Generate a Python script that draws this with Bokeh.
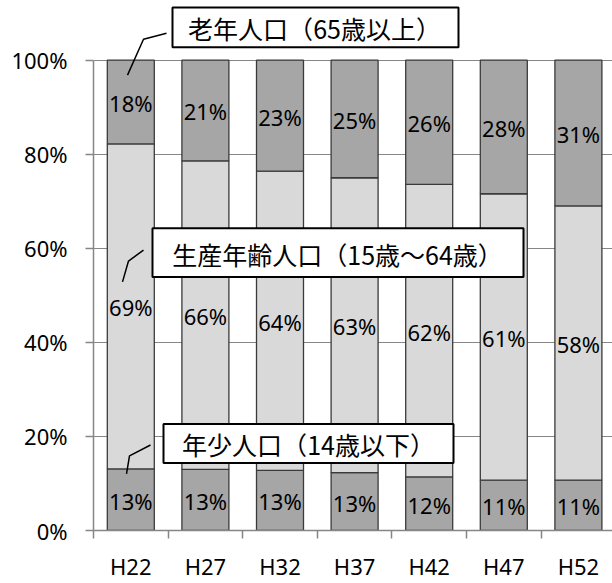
from bokeh.plotting import figure
from bokeh.models import ColumnDataSource, FixedTicker, Range1d, BoxAnnotation, Label, NumeralTickFormatter
from bokeh.core.properties import value
from bokeh.embed import file_html
from bokeh.resources import INLINE

# ---- data ----
categories = ["H22", "H27", "H32", "H37", "H42", "H47", "H52"]
young = [0.131, 0.130, 0.128, 0.123, 0.114, 0.107, 0.107]      # 年少人口
working = [0.691, 0.656, 0.636, 0.627, 0.622, 0.609, 0.583]    # 生産年齢人口
elderly = [0.178, 0.214, 0.236, 0.250, 0.264, 0.284, 0.310]    # 老年人口
young_labels = ["13%", "13%", "13%", "13%", "12%", "11%", "11%"]
working_labels = ["69%", "66%", "64%", "63%", "62%", "61%", "58%"]
elderly_labels = ["18%", "21%", "23%", "25%", "26%", "28%", "31%"]
y_ticks = [0.0, 0.2, 0.4, 0.6, 0.8, 1.0]
callout_texts = ["老年人口（65歳以上）", "生産年齢人口（15歳～64歳）", "年少人口（14歳以下）"]

# ---- style ----
DARK = "#a6a6a6"
LIGHT = "#d9d9d9"
EDGE = "#3a3a3a"
GRID = "#868686"
NUM_FONT = "Noto Sans"
CJK_FONT = "Noto Sans CJK JP"

# layout helpers (canvas pixel -> data); frame left at x=93, zero line at y=533
CAT_PX = 74.6
Y_PX = 473.0
def dx(px):
    return -0.5 + (px - 93) / CAT_PX
def dy(py):
    return (533 - py) / Y_PX

p = figure(width=612, height=583,
           x_range=Range1d(-0.5, dx(612)), y_range=Range1d(0, dy(0)),
           output_backend="svg", toolbar_location=None,
           min_border_left=93, min_border_right=0, min_border_top=0, min_border_bottom=50)
p.outline_line_color = None
p.background_fill_color = "white"
p.xgrid.visible = False
p.ygrid.ticker = FixedTicker(ticks=y_ticks)
p.ygrid.grid_line_color = GRID
p.ygrid.grid_line_width = 1.2

xs = list(range(len(categories)))
src = ColumnDataSource(dict(x=xs, young=young, working=working, elderly=elderly))
p.vbar_stack(["young", "working", "elderly"], x="x", width=0.63, source=src,
             fill_color=[DARK, LIGHT, DARK], line_color=EDGE, line_width=1.3)

# segment labels
mid_y, mid_w, mid_e = [], [], []
for a, b, c in zip(young, working, elderly):
    mid_y.append(a / 2)
    mid_w.append(a + b / 2)
    mid_e.append(a + b + c / 2)
lab_src = ColumnDataSource(dict(
    x=xs * 3,
    y=mid_y + mid_w + mid_e,
    t=young_labels + working_labels + elderly_labels))
p.text(x="x", y="y", text="t", source=lab_src, text_align="center", text_baseline="middle",
       text_font=value(NUM_FONT), text_font_size="22px", text_color="black", y_offset=1)

# axes
xa = p.xaxis[0]
xa.ticker = FixedTicker(ticks=xs, minor_ticks=[i - 0.5 for i in range(len(categories) + 1)])
xa.major_label_overrides = {i: c for i, c in zip(xs, categories)}
xa.major_tick_out = 0
xa.major_tick_in = 0
xa.minor_tick_out = 8
xa.minor_tick_in = 0
xa.minor_tick_line_color = GRID
xa.minor_tick_line_width = 1.5
xa.axis_line_color = GRID
xa.axis_line_width = 1.5
xa.major_label_standoff = 12
xa.major_label_text_font = NUM_FONT
xa.major_label_text_font_size = "22px"
xa.major_label_text_color = "black"

ya = p.yaxis[0]
ya.ticker = FixedTicker(ticks=y_ticks, minor_ticks=[])
ya.formatter = NumeralTickFormatter(format="0%")
ya.bounds = (0, 1)
ya.major_tick_out = 8
ya.major_tick_in = 0
ya.minor_tick_out = 0
ya.minor_tick_in = 0
ya.major_tick_line_color = GRID
ya.major_tick_line_width = 1.5
ya.axis_line_color = GRID
ya.axis_line_width = 1.5
ya.major_label_standoff = 18
ya.major_label_text_font = NUM_FONT
ya.major_label_text_font_size = "22px"
ya.major_label_text_color = "black"

# callouts (canvas-pixel layout)
boxes = [(172, 458, 7, 47), (152, 523, 229, 278), (163, 453, 426, 465)]
text_pos = [(314, 28), (337, 255), (308, 446)]
leaders = [
    [(127, 75), (143, 39), (166, 33)],
    [(122, 283), (128, 262), (143, 251)],
    [(126, 476), (129, 458), (150, 447)],
]
for (l, r, t, b), (tx, ty), pts, txt in zip(boxes, text_pos, leaders, callout_texts):
    p.line([dx(q[0]) for q in pts], [dy(q[1]) for q in pts], line_color="black", line_width=1.5)
    p.add_layout(BoxAnnotation(left=dx(l), right=dx(r), top=dy(t), bottom=dy(b),
                               fill_color="white", fill_alpha=1.0,
                               line_color="black", line_width=2, line_alpha=1.0))
    p.add_layout(Label(x=dx(tx), y=dy(ty), text=txt, text_align="center", text_baseline="middle",
                       text_font=CJK_FONT, text_font_size="25px", text_color="black"))

open("out.html", "w").write(file_html(p, INLINE))
